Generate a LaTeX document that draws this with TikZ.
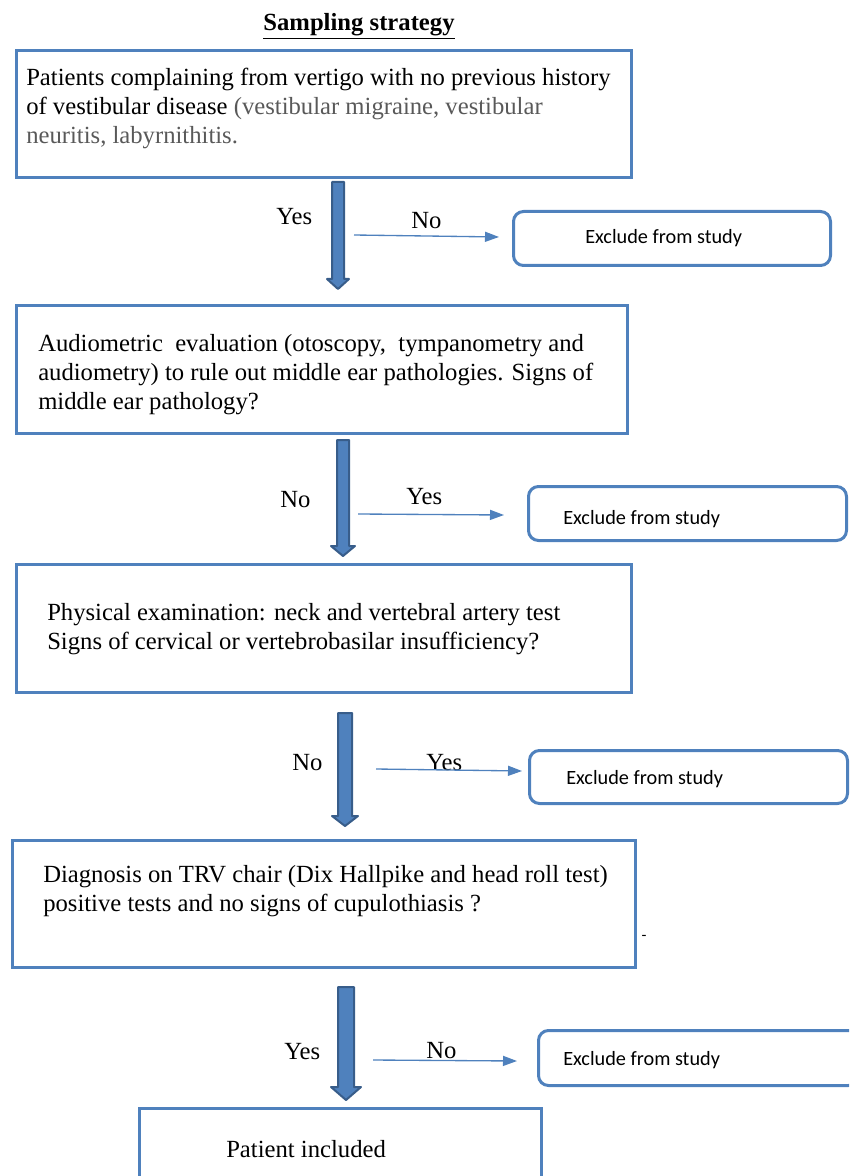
\documentclass[tikz,border=0pt]{standalone}
\usepackage{fontspec}
\setmainfont{Liberation Serif}
\newfontfamily\calfont{Carlito}
\usetikzlibrary{arrows.meta}
\definecolor{boxblue}{RGB}{79,129,189}
\definecolor{darkblue}{RGB}{56,93,138}
\definecolor{greytext}{RGB}{89,89,89}
\newcommand\fatarrow[6]{\draw[fat] (#1-#5,#2) -- (#1+#5,#2) -- (#1+#5,#3) -- (#1+#6,#3) -- (#1,#4) -- (#1-#6,#3) -- (#1-#5,#3) -- cycle;}
\begin{document}
\begin{tikzpicture}[x=0.75pt,y=-0.75pt,
  mainbox/.style={draw=boxblue,line width=2.25pt,anchor=north west,inner sep=0pt},
  exbox/.style={draw=boxblue,line width=2.25pt,rounded corners=7.5pt,anchor=north west,inner sep=0pt},
  bodytext/.style={anchor=base west,inner sep=0pt,align=left,font=\fontsize{18.5}{21.75}\selectfont},
  extext/.style={anchor=base west,inner sep=0pt,font=\calfont\fontsize{15.2}{18}\selectfont},
  lbl/.style={anchor=base west,inner sep=0pt,font=\fontsize{18.5}{21.75}\selectfont},
  thinarrow/.style={draw=boxblue,line width=1pt,-{Triangle[length=10.5pt,width=7.5pt]}},
  fat/.style={fill=boxblue,draw=darkblue,line width=1.5pt,line join=round}]
\clip (0,0) rectangle (849,1176);
\useasboundingbox (0,0) rectangle (849,1176);

% title
\node[anchor=base,inner sep=0pt,font=\bfseries\fontsize{18.5}{22}\selectfont] (title) at (359,31) {\underline{Sampling strategy}};

% main boxes (text nodes anchored at the baseline of their last line)
\node[mainbox,minimum width=461.25pt,minimum height=95.25pt] (b1) at (15,49) {};
\node[bodytext] (t1) at (26,144) {Patients complaining from vertigo with no previous history\\of vestibular disease {\color{greytext}(vestibular migraine, vestibular}\\{\color{greytext}neuritis, labyrnithitis.}};

\node[mainbox,minimum width=458.25pt,minimum height=96pt] (b2) at (15,304) {};
\node[bodytext] (t2) at (38,409) {Audiometric\ \ evaluation (otoscopy,\ \ tympanometry and\\audiometry) to rule out middle ear pathologies. Signs of\\middle ear pathology?};

\node[mainbox,minimum width=461.25pt,minimum height=96pt] (b3) at (15,563) {};
\node[bodytext] (t3) at (47,649) {Physical examination: neck and vertebral artery test\\Signs of cervical or vertebrobasilar insufficiency?};

\node[mainbox,minimum width=467.25pt,minimum height=95.25pt] (b4) at (11,839) {};
\node[bodytext] (t4) at (43,911) {Diagnosis on TRV chair (Dix Hallpike and head roll test)\\positive tests and no signs of cupulothiasis ?};
\node[anchor=base,inner sep=0pt,font=\calfont\fontsize{12}{14}\selectfont] (dash) at (644,940) {-};

\node[mainbox,minimum width=301.5pt,minimum height=75pt] (b5) at (138,1107) {};
\node[bodytext] (t5) at (226,1157) {Patient included};

% exclude boxes
\node[exbox,minimum width=237.75pt,minimum height=40.5pt] (x1) at (512,210) {};
\node[extext] (xt1) at (585,244) {Exclude from study};
\node[exbox,minimum width=238.5pt,minimum height=40.5pt] (x2) at (527,485) {};
\node[extext] (xt2) at (563,524) {Exclude from study};
\node[exbox,minimum width=238.5pt,minimum height=39.75pt] (x3) at (528,749) {};
\node[extext] (xt3) at (566,784) {Exclude from study};
\node[exbox,minimum width=240pt,minimum height=41.25pt] (x4) at (537,1029) {};
\node[extext] (xt4) at (563,1065) {Exclude from study};

% thick arrows
\fatarrow{338}{182}{279}{289}{6}{11}
\fatarrow{343}{440}{546}{556}{6}{12}
\fatarrow{345}{713}{816}{826}{7}{13}
\fatarrow{346}{987}{1087}{1100}{8}{15}

% labels
\node[lbl] (y1) at (276,225) {Yes};
\node[lbl] (n1) at (411,229) {No};
\node[lbl] (n2) at (280,507) {No};
\node[lbl] (y2) at (406,504) {Yes};
\node[lbl] (n3) at (292,770) {No};
\node[lbl] (y3) at (426,770) {Yes};
\node[lbl] (y4) at (284,1059) {Yes};
\node[lbl] (n4) at (426,1058) {No};

% thin arrows
\coordinate (s1) at (354,235); \coordinate (e1) at (499,237);
\coordinate (s2) at (358,514); \coordinate (e2) at (504,515);
\coordinate (s3) at (376,769); \coordinate (e3) at (522,771);
\coordinate (s4) at (373,1060); \coordinate (e4) at (517,1061);
\draw[thinarrow] (s1) -- (e1);
\draw[thinarrow] (s2) -- (e2);
\draw[thinarrow] (s3) -- (e3);
\draw[thinarrow] (s4) -- (e4);
\end{tikzpicture}
\end{document}
